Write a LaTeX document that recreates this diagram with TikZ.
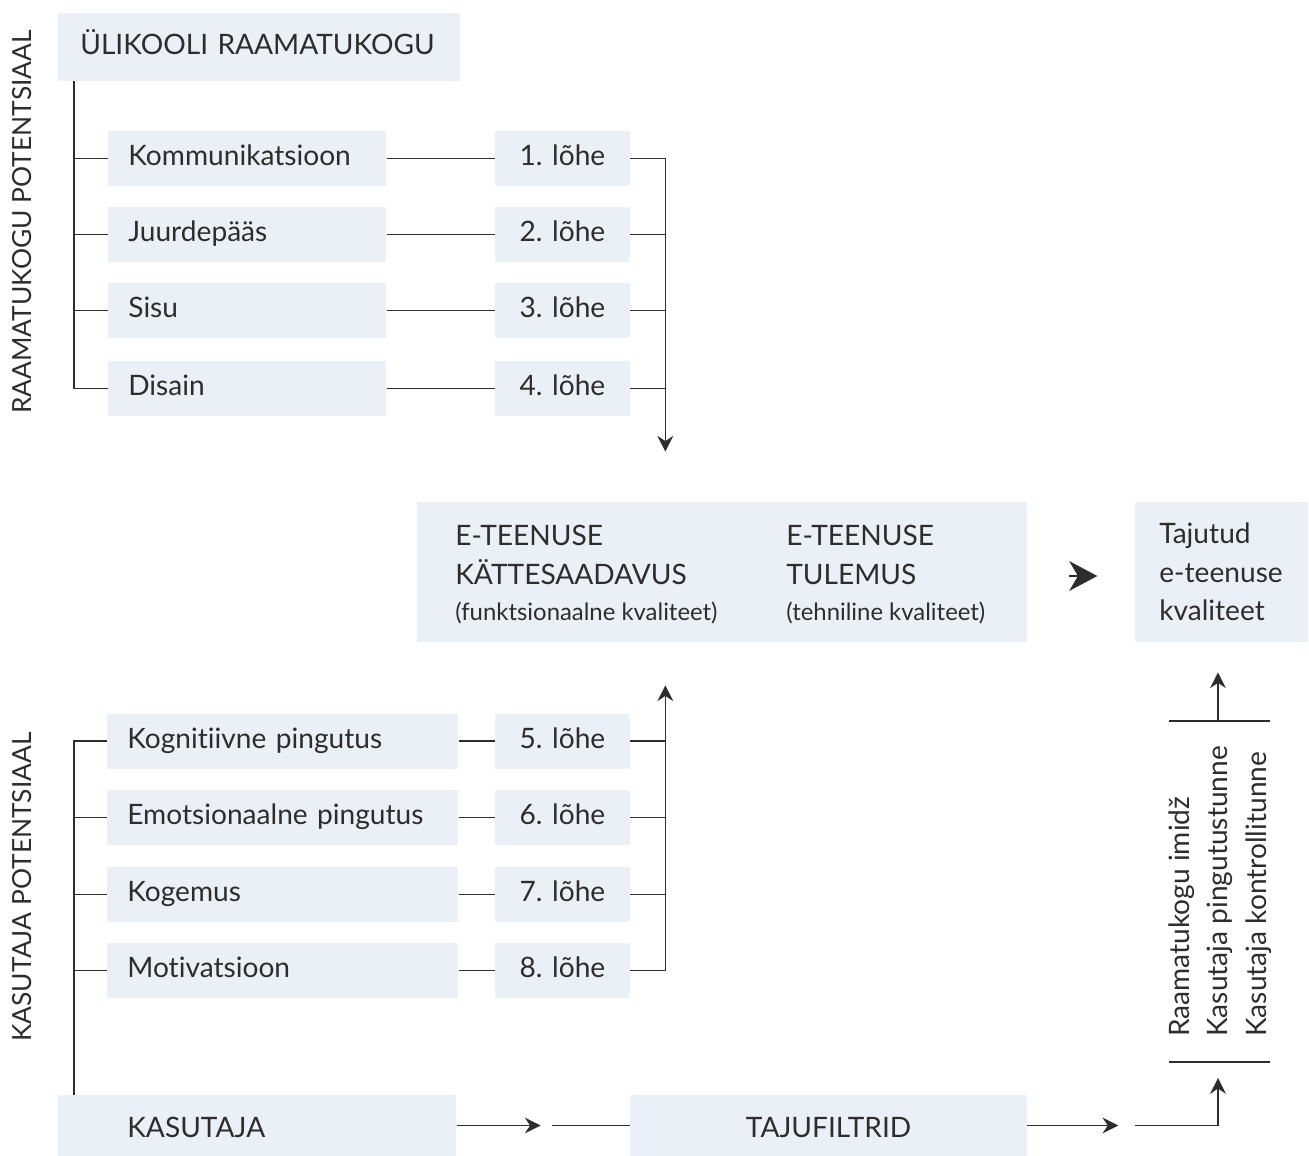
\documentclass[tikz,border=0pt]{standalone}
\usepackage{fontspec}
\setmainfont{Lato}[Ligatures={TeX,NoCommon}]
\usepackage{xcolor}
\definecolor{boxfill}{RGB}{235,240,247}
\definecolor{ink}{RGB}{45,45,45}
\usetikzlibrary{arrows.meta, positioning, calc}
\newcommand\mainsize{\fontsize{16}{22}\selectfont}
\newcommand\notesize{\fontsize{13.6}{16}\selectfont}
\newcommand\sidesize{\fontsize{15}{18}\selectfont}

\begin{document}
\begin{tikzpicture}[
        x=0.02cm, y=-0.02cm,
        panel/.style={fill=boxfill, inner ysep=0pt, font=\mainsize, text=ink},
        box/.style={panel, minimum height=1.1cm, inner xsep=0.4cm, text height=12.5pt, text depth=4pt},
        factor/.style={box, anchor=west, text width=#1, align=left},
        gap/.style={box, minimum width=2.7cm, inner xsep=0pt},
        link/.style={draw=ink, line width=0.8pt},
        arr/.style={link, -{Stealth[length=9pt, width=9pt, inset=3pt]}},
        side/.style={rotate=90, font=\sidesize, text=ink, inner sep=0pt}
    ]
        \useasboundingbox (0,0) rectangle (1309,1156);

        % library side
        \node[box, anchor=west, align=left, text width=7.16cm, inner xsep=0.44cm, minimum height=1.36cm] (uni) at (58,47) {ÜLIKOOLI RAAMATUKOGU};
        \node[side] (libpot) at (22,222) {RAAMATUKOGU POTENTSIAAL};
        \node[factor=4.76cm] (komm) at (108,158.5) {Kommunikatsioon};
        \node[factor=4.76cm] (juurde) at (108,234.5) {Juurdepääs};
        \node[factor=4.76cm] (sisu) at (108,310.5) {Sisu};
        \node[factor=4.76cm] (disain) at (108,388.5) {Disain};
        \node[gap] (gap1) at (562.5,158.5) {1. lõhe};
        \node[gap] (gap2) at (562.5,234.5) {2. lõhe};
        \node[gap] (gap3) at (562.5,310.5) {3. lõhe};
        \node[gap] (gap4) at (562.5,388.5) {4. lõhe};

        % service in the middle
        \node[panel, minimum width=12.2cm, minimum height=2.8cm] (service) at (722,572) {};
        \node[anchor=base west, align=left, inner sep=0pt, font=\mainsize, text=ink] (access) at (455,620) {E-TEENUSE\\KÄTTESAADAVUS\\[-1.6pt]{\notesize(funktsionaalne kvaliteet)}};
        \node[anchor=base west, align=left, inner sep=0pt, font=\mainsize, text=ink] (outcome) at (786,620) {E-TEENUSE\\TULEMUS\\[-1.6pt]{\notesize(tehniline kvaliteet)}};
        \node[panel, anchor=west, align=left, text width=2.5cm, inner xsep=0.48cm, minimum height=2.8cm] (taju) at (1135,572) {Tajutud\\e-teenuse\\kvaliteet};

        % user side
        \node[side] (userpot) at (22,887) {KASUTAJA POTENTSIAAL};
        \node[factor=6.22cm] (cog) at (107,741) {Kognitiivne pingutus};
        \node[factor=6.22cm] (emo) at (107,817.5) {Emotsionaalne pingutus};
        \node[factor=6.22cm] (kogemus) at (107,894.5) {Kogemus};
        \node[factor=6.22cm] (motiv) at (107,970.5) {Motivatsioon};
        \node[gap] (gap5) at (562.5,741) {5. lõhe};
        \node[gap] (gap6) at (562.5,817.5) {6. lõhe};
        \node[gap] (gap7) at (562.5,894.5) {7. lõhe};
        \node[gap] (gap8) at (562.5,970.5) {8. lõhe};
        \node[box, anchor=west, align=left, text width=5.2cm, inner xsep=1.38cm, minimum height=1.22cm, text height=18pt] (kasutaja) at (58,1125.5) {KASUTAJA};
        \node[box, minimum width=7.94cm, minimum height=1.22cm, text height=18pt] (filtrid) at (828.5,1125.5) {TAJUFILTRID};

        % perception filters
        \node[side, anchor=north west, align=left, font=\mainsize] (filters) at (1168,1037) {Raamatukogu imidž\\Kasutaja pingutustunne\\Kasutaja kontrollitunne};
        \coordinate (ftop) at (1218,721);
        \coordinate (fbot) at (1218,1062);
        \draw[link] ($(ftop)+(-49,0)$) -- ++(101,0);
        \draw[link] ($(fbot)+(-49,0)$) -- ++(101,0);

        % spines
        \coordinate (spine1) at ($(uni.south west)+(16,0)$);
        \draw[link] (spine1) |- (disain.west);
        \foreach \n in {komm,juurde,sisu}
            \draw[link] (spine1 |- \n.west) -- (\n.west);
        \coordinate (spine2) at ($(kasutaja.north west)+(16,0)$);
        \draw[link] (spine2) |- (cog.west);
        \foreach \n in {emo,kogemus,motiv}
            \draw[link] (spine2 |- \n.west) -- (\n.west);

        % factors to gaps
        \foreach \a/\b in {komm/gap1,juurde/gap2,sisu/gap3,disain/gap4,cog/gap5,emo/gap6,kogemus/gap7,motiv/gap8}
            \draw[link] (\a) -- (\b);

        % gaps into the service
        \draw[arr] (gap1.east) -- ++(35,0) coordinate (merge1) -- ($(merge1 |- service.north)+(0,-50)$);
        \foreach \n in {gap2,gap3,gap4}
            \draw[link] (\n.east) -- (merge1 |- \n.east);
        \draw[arr] (gap8.east) -- ++(35,0) coordinate (merge2) -- ($(merge2 |- service.south)+(0,43)$);
        \foreach \n in {gap5,gap6,gap7}
            \draw[link] (\n.east) -- (merge2 |- \n.east);
        \draw[link, -{Stealth[length=16pt, width=17pt, inset=5pt]}] ($(service.east)+(42,4)$) -- ($(service.east)+(70,4)$);

        % user through the filters
        \draw[arr] (kasutaja.east) -- ++(84,0);
        \draw[link] (filtrid.west) -- ++(-78,0);
        \draw[arr] (filtrid.east) -- ++(91,0);
        \draw[arr] ($(filtrid.east)+(108,0)$) -| ($(fbot)+(0,16)$);
        \draw[arr] (ftop) -- ($(taju.south -| ftop)+(0,30)$);
    \end{tikzpicture}
\end{document}
